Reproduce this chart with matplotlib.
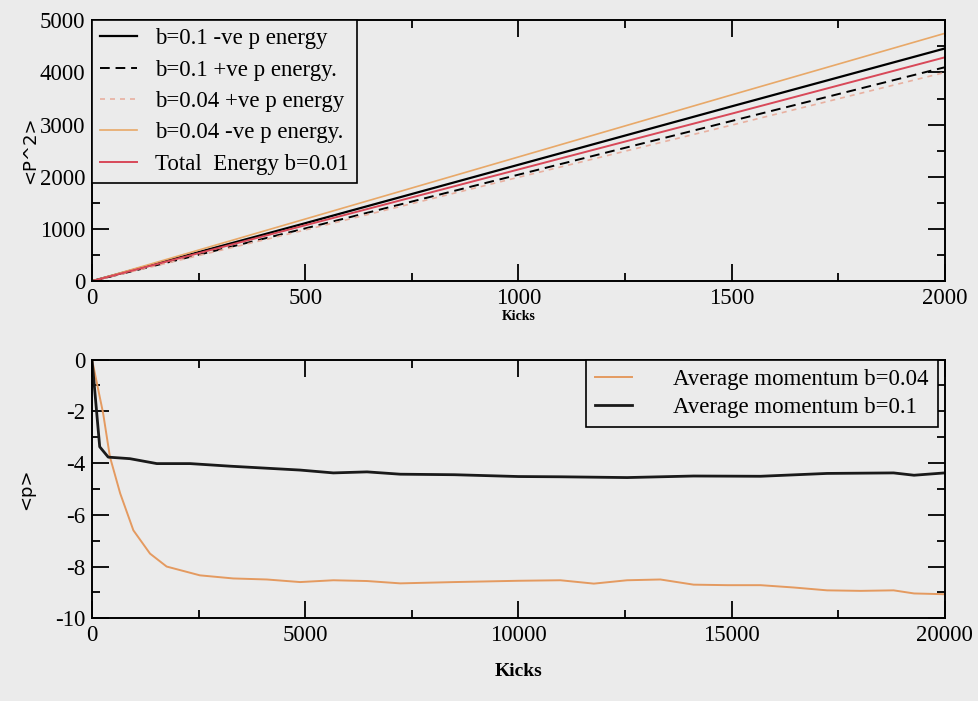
import matplotlib
matplotlib.use("Agg")
import matplotlib.pyplot as plt
from matplotlib.ticker import MultipleLocator

# Energy growth <p^2> against kicks
kicks_e = [0, 500, 1000, 1500, 2000]
neg_b01 = [0, 1110, 2230, 3350, 4460]
pos_b01 = [0, 1010, 2040, 3070, 4100]
pos_b004 = [0, 980, 1990, 2990, 4000]
neg_b004 = [0, 1190, 2380, 3570, 4750]
total_b001 = [0, 1070, 2140, 3210, 4290]

# Average momentum <p> against kicks
kicks_m = [0, 180, 380, 890, 1520, 2300, 3240, 4330, 4880, 5660, 6450, 7230,
           8500, 10000, 10985, 12550, 14110, 15680, 17240, 18800, 19280, 20000]
mom_b01 = [0, -3.37, -3.77, -3.83, -4.02, -4.02, -4.12, -4.22, -4.27, -4.38,
           -4.34, -4.43, -4.45, -4.52, -4.53, -4.56, -4.50, -4.51, -4.40, -4.38,
           -4.47, -4.38]
kicks_m2 = [0, 260, 420, 660, 970, 1360, 1750, 2530, 3310, 4100, 4880, 5660,
            6450, 7230, 8500, 10000, 10985, 11770, 12550, 13330, 14110, 14900,
            15680, 16460, 17240, 18030, 18800, 19280, 20000]
mom_b004 = [0, -2.07, -3.76, -5.17, -6.6, -7.5, -8.0, -8.34, -8.46, -8.5,
            -8.6, -8.53, -8.56, -8.65, -8.6, -8.55, -8.53, -8.66, -8.53, -8.5,
            -8.7, -8.72, -8.72, -8.81, -8.92, -8.94, -8.92, -9.04, -9.07]

bg = "#ebebeb"
plt.rcParams["font.family"] = ["Liberation Serif", "DejaVu Serif"]
plt.rcParams["axes.unicode_minus"] = False
plt.rcParams["axes.linewidth"] = 1.4

fig = plt.figure(figsize=(9.79, 7.01), dpi=100, facecolor=bg)
ax1 = fig.add_axes([0.094, 0.599, 0.871, 0.372], facecolor=bg)
ax2 = fig.add_axes([0.094, 0.118, 0.871, 0.369], facecolor=bg)

ax1.plot(kicks_e, neg_b01, color="black", lw=1.6, label="b=0.1 -ve p energy")
ax1.plot(kicks_e, pos_b01, color="black", lw=1.4, ls=(0, (5, 3)),
         label="b=0.1 +ve p energy.")
ax1.plot(kicks_e, pos_b004, color="#e8b0a0", lw=1.2, ls=(0, (3, 3)),
         label="b=0.04 +ve p energy")
ax1.plot(kicks_e, neg_b004, color="#e8a868", lw=1.2, label="b=0.04 -ve p energy.")
ax1.plot(kicks_e, total_b001, color="#d84858", lw=1.4, label="Total  Energy b=0.01")

ax1.set_xlim(0, 2000)
ax1.set_ylim(0, 5000)
ax1.xaxis.set_major_locator(MultipleLocator(500))
ax1.xaxis.set_minor_locator(MultipleLocator(250))
ax1.yaxis.set_major_locator(MultipleLocator(1000))
ax1.yaxis.set_minor_locator(MultipleLocator(500))
ax1.set_xlabel("Kicks", fontsize=10, fontweight="bold", labelpad=1)
ax1.set_ylabel("<P^2>", fontsize=13, family="DejaVu Sans", labelpad=0)

leg1 = ax1.legend(loc="upper left", fontsize=16.5, frameon=True, fancybox=False,
                  borderaxespad=0, handlelength=1.6, labelspacing=0.45,
                  borderpad=0.35, handletextpad=0.8)

ax2.plot(kicks_m2, mom_b004, color="#e49a60", lw=1.4, label="Average momentum b=0.04")
ax2.plot(kicks_m, mom_b01, color="#1a1a1a", lw=2.0, label="Average momentum b=0.1")

ax2.set_xlim(0, 20000)
ax2.set_ylim(-10, 0)
ax2.xaxis.set_major_locator(MultipleLocator(5000))
ax2.xaxis.set_minor_locator(MultipleLocator(2500))
ax2.yaxis.set_major_locator(MultipleLocator(2))
ax2.yaxis.set_minor_locator(MultipleLocator(1))
ax2.set_xlabel("Kicks", fontsize=14, fontweight="bold", labelpad=12)
ax2.set_ylabel("<p>", fontsize=13, family="DejaVu Sans", labelpad=14)

leg2 = ax2.legend(loc="upper right", fontsize=16.5, frameon=True, fancybox=False,
                  borderaxespad=0, bbox_to_anchor=(0.992, 1.0),
                  handlelength=1.6, labelspacing=0.3, borderpad=0.4,
                  handletextpad=1.8)

for leg in (leg1, leg2):
    frame = leg.get_frame()
    frame.set_edgecolor("black")
    frame.set_linewidth(1.2)
    frame.set_facecolor(bg)
    frame.set_alpha(1)

for ax in (ax1, ax2):
    ax.tick_params(which="both", direction="in", top=True, right=True,
                   labelsize=16.5, width=1.3, pad=5)
    ax.tick_params(which="major", length=12)
    ax.tick_params(which="minor", length=6)

fig.savefig("out.png", dpi=100, facecolor=bg)
